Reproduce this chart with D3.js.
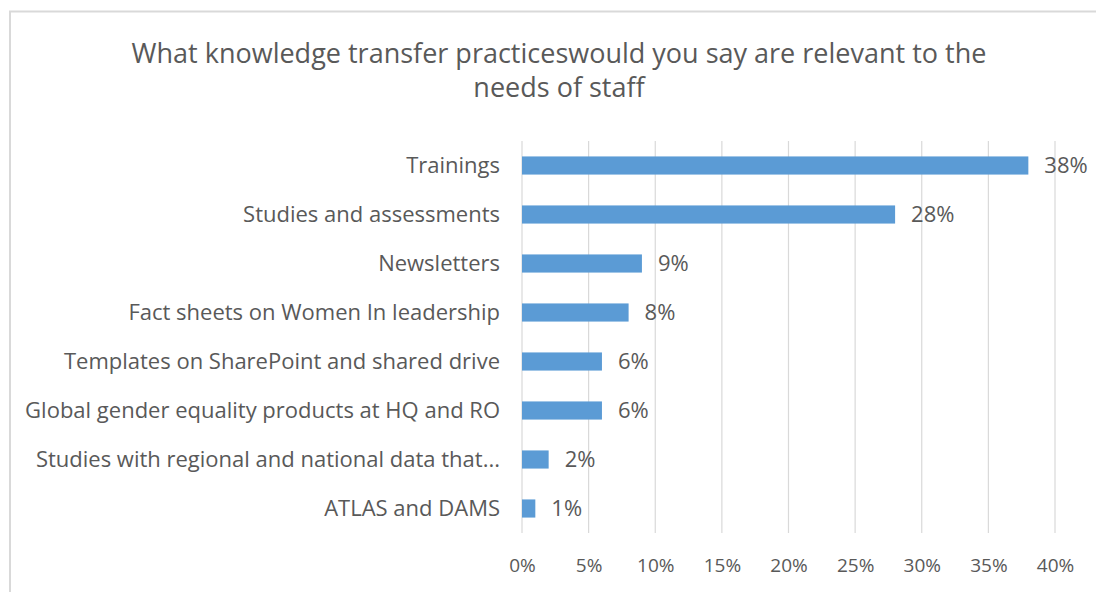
<!DOCTYPE html>
<html>
<head>
<meta charset="utf-8">
<script src="https://cdn.jsdelivr.net/npm/d3@7"></script>
<style>
  body { margin: 0; background: #fff; }
  svg { display: block; }
  text { font-family: "Open Sans", sans-serif; fill: #595959; }
</style>
</head>
<body>
<svg width="1096" height="592"></svg>
<script>
// data, top to bottom
let categories = ["Trainings", "Studies and assessments", "Newsletters", "Fact sheets on Women In leadership",
  "Templates on SharePoint and shared drive", "Global gender equality products at HQ and RO",
  "Studies with regional and national data that...", "ATLAS and DAMS"];
let values = [38, 28, 9, 8, 6, 6, 2, 1];
let ticks = [0, 5, 10, 15, 20, 25, 30, 35, 40];
let titleLines = ["What knowledge transfer practiceswould you say are relevant to the", "needs of staff"];

let svg = d3.select("svg");
let margin = { top: 141, right: 41, bottom: 59, left: 522 };
let width = 1096 - margin.left - margin.right;
let height = 592 - margin.top - margin.bottom;

// chart frame (runs off the right / bottom edge in the reference)
svg.append("rect")
  .attr("x", 10).attr("y", 11.5)
  .attr("width", 1200).attr("height", 700)
  .attr("fill", "none").attr("stroke", "#d9d9d9").attr("stroke-width", 2);

svg.selectAll(".title")
  .data(titleLines)
  .enter().append("text")
  .attr("class", "title")
  .attr("x", 559)
  .attr("y", (d, i) => 63 + i * 34)
  .attr("text-anchor", "middle")
  .style("font-size", "27px")
  .text(d => d);

let g = svg.append("g").attr("transform", "translate(" + margin.left + "," + margin.top + ")");

let x = d3.scaleLinear().domain([0, 40]).range([0, width]);
let y = d3.scaleBand().domain(categories).range([0, height]).paddingInner(0.63).paddingOuter(0.315);

// gridlines
g.selectAll(".grid")
  .data(ticks)
  .enter().append("line")
  .attr("class", "grid")
  .attr("x1", d => x(d)).attr("x2", d => x(d))
  .attr("y1", 0).attr("y2", height)
  .attr("stroke", "#d9d9d9").attr("stroke-width", 1.2);

// x axis labels
let xAxis = d3.axisBottom(x).tickValues(ticks).tickSize(0).tickPadding(0).tickFormat(d => d + "%");
g.append("g")
  .attr("transform", "translate(0," + (height + 25) + ")")
  .call(xAxis)
  .call(a => a.select(".domain").remove())
  .selectAll("text")
  .attr("fill", "#595959")
  .style("font-family", "'Open Sans', sans-serif")
  .style("font-size", "19px");

// category labels
let yAxis = d3.axisLeft(y).tickSize(0).tickPadding(22);
g.append("g")
  .call(yAxis)
  .call(a => a.select(".domain").remove())
  .selectAll("text")
  .attr("fill", "#595959")
  .style("font-family", "'Open Sans', sans-serif")
  .style("font-size", "22px");

// bars
g.selectAll(".bar")
  .data(values)
  .enter().append("rect")
  .attr("class", "bar")
  .attr("x", 0)
  .attr("y", (d, i) => y(categories[i]))
  .attr("width", d => x(d))
  .attr("height", y.bandwidth())
  .attr("fill", "#5b9bd5");

// value labels
g.selectAll(".val")
  .data(values)
  .enter().append("text")
  .attr("class", "val")
  .attr("x", d => x(d) + 16)
  .attr("y", (d, i) => y(categories[i]) + y.bandwidth() / 2)
  .attr("dy", "0.36em")
  .style("font-size", "22px")
  .text(d => d + "%");
</script>
</body>
</html>
